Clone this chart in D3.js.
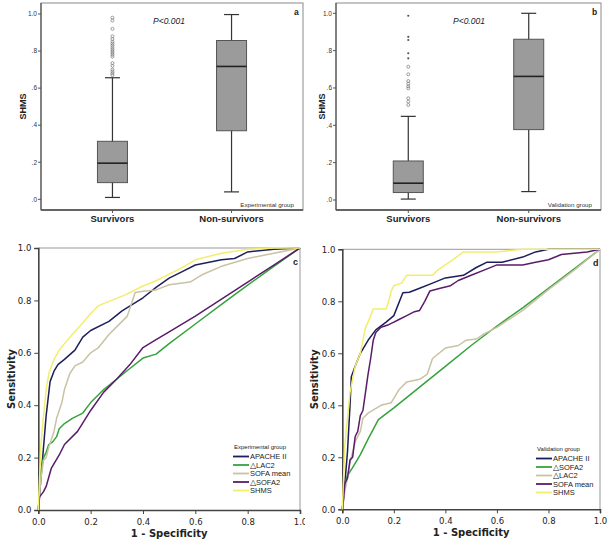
<!DOCTYPE html>
<html><head><meta charset="utf-8">
<script src="https://cdn.jsdelivr.net/npm/d3@7"></script>
<style>body{margin:0;background:#fff}svg{display:block;font-family:"Liberation Sans",Arial,sans-serif}</style>
</head><body>
<svg id="c" width="608" height="546"></svg>
<script>
// ---------- DATA ----------
const boxGroups = ["Survivors", "Non-survivors"];
const yTicksBox = [0, 0.2, 0.4, 0.6, 0.8, 1.0];
// [lower whisker, Q1, median, Q3, upper whisker]
const expSurvivors = [0.01, 0.09, 0.195, 0.313, 0.656];
const expNonSurvivors = [0.04, 0.37, 0.717, 0.857, 0.997];
const expOutliers = [0.98, 0.965, 0.92, 0.88, 0.865, 0.85, 0.84, 0.83, 0.82, 0.81, 0.80, 0.79, 0.78, 0.77, 0.735, 0.72, 0.70, 0.69, 0.68, 0.67];
const valSurvivors = [0.005, 0.04, 0.09, 0.209, 0.448];
const valNonSurvivors = [0.045, 0.377, 0.662, 0.861, 1.0];
const valOutliers = [0.714, 0.673, 0.637, 0.623, 0.609, 0.598, 0.545, 0.527, 0.509];
const valExtremes = [0.987, 0.874, 0.857, 0.786, 0.759];

const rocTicks = [0, 0.2, 0.4, 0.6, 0.8, 1.0];
// Experimental group ROC curves [1-specificity, sensitivity]
const expApache = [[0,0],[0.01,0.12],[0.02,0.24],[0.03,0.36],[0.045,0.49],[0.06,0.53],[0.075,0.555],[0.1,0.575],[0.14,0.61],[0.17,0.66],[0.2,0.685],[0.27,0.72],[0.32,0.76],[0.4,0.81],[0.45,0.85],[0.5,0.885],[0.55,0.91],[0.6,0.935],[0.7,0.955],[0.75,0.96],[0.8,0.985],[0.9,0.995],[1,1]];
const expLac2 = [[0,0],[0.01,0.15],[0.02,0.2],[0.03,0.22],[0.04,0.25],[0.055,0.26],[0.07,0.28],[0.08,0.31],[0.1,0.33],[0.13,0.35],[0.17,0.37],[0.2,0.41],[0.25,0.46],[0.3,0.5],[0.35,0.54],[0.4,0.58],[0.45,0.595],[0.5,0.635],[0.6,0.71],[0.7,0.785],[0.8,0.858],[0.9,0.93],[1,1]];
const expSofaMean = [[0,0],[0.01,0.12],[0.02,0.19],[0.03,0.2],[0.04,0.24],[0.06,0.3],[0.07,0.35],[0.09,0.41],[0.1,0.46],[0.12,0.52],[0.14,0.55],[0.17,0.565],[0.2,0.6],[0.23,0.62],[0.27,0.67],[0.3,0.7],[0.34,0.74],[0.36,0.8],[0.37,0.83],[0.4,0.835],[0.45,0.84],[0.5,0.86],[0.58,0.87],[0.63,0.9],[0.7,0.93],[0.8,0.96],[0.9,0.98],[1,1]];
const expSofa2 = [[0,0],[0.005,0.05],[0.02,0.07],[0.03,0.09],[0.05,0.16],[0.08,0.21],[0.1,0.25],[0.15,0.3],[0.2,0.38],[0.25,0.45],[0.3,0.5],[0.35,0.555],[0.4,0.62],[0.45,0.65],[0.5,0.68],[0.6,0.74],[0.7,0.805],[0.8,0.87],[0.9,0.935],[1,1]];
const expShms = [[0,0],[0.01,0.25],[0.02,0.36],[0.03,0.46],[0.04,0.52],[0.06,0.575],[0.08,0.61],[0.1,0.635],[0.13,0.67],[0.17,0.715],[0.2,0.75],[0.23,0.78],[0.28,0.8],[0.33,0.82],[0.4,0.855],[0.45,0.875],[0.5,0.9],[0.55,0.925],[0.6,0.955],[0.7,0.98],[0.8,0.995],[0.9,1],[1,1]];
// Validation group ROC curves
const valApache = [[0,0],[0.01,0.1],[0.02,0.22],[0.03,0.4],[0.035,0.51],[0.05,0.55],[0.07,0.6],[0.1,0.65],[0.13,0.69],[0.17,0.72],[0.2,0.745],[0.235,0.833],[0.26,0.835],[0.3,0.85],[0.35,0.87],[0.4,0.89],[0.47,0.9],[0.52,0.93],[0.56,0.95],[0.62,0.95],[0.7,0.97],[0.75,0.99],[0.8,1],[1,1]];
const valSofa2 = [[0,0],[0.01,0.1],[0.02,0.13],[0.04,0.16],[0.07,0.21],[0.1,0.27],[0.14,0.345],[0.2,0.39],[0.3,0.47],[0.4,0.55],[0.5,0.63],[0.6,0.705],[0.7,0.775],[0.8,0.85],[0.9,0.925],[1,1]];
const valLac2 = [[0,0],[0.01,0.07],[0.02,0.12],[0.03,0.18],[0.05,0.26],[0.07,0.3],[0.08,0.35],[0.1,0.37],[0.15,0.4],[0.19,0.41],[0.22,0.46],[0.25,0.49],[0.3,0.5],[0.33,0.52],[0.35,0.58],[0.4,0.62],[0.45,0.63],[0.48,0.65],[0.52,0.655],[0.55,0.675],[0.6,0.7],[0.7,0.765],[0.8,0.845],[0.9,0.92],[1,1]];
const valSofaMean = [[0,0],[0.005,0.04],[0.01,0.1],[0.02,0.12],[0.03,0.19],[0.04,0.2],[0.05,0.28],[0.06,0.3],[0.07,0.36],[0.08,0.38],[0.09,0.45],[0.1,0.52],[0.11,0.58],[0.12,0.65],[0.13,0.68],[0.15,0.7],[0.18,0.71],[0.2,0.72],[0.22,0.73],[0.25,0.745],[0.28,0.76],[0.3,0.765],[0.32,0.8],[0.34,0.84],[0.38,0.85],[0.42,0.86],[0.45,0.88],[0.5,0.9],[0.55,0.92],[0.6,0.94],[0.7,0.94],[0.75,0.95],[0.8,0.96],[0.85,0.98],[0.95,0.99],[1,1]];
const valShms = [[0,0],[0.01,0.25],[0.03,0.45],[0.05,0.55],[0.07,0.6],[0.09,0.7],[0.1,0.72],[0.12,0.77],[0.17,0.77],[0.18,0.8],[0.19,0.84],[0.2,0.86],[0.23,0.87],[0.25,0.9],[0.35,0.9],[0.37,0.92],[0.4,0.94],[0.43,0.96],[0.47,0.99],[0.6,0.99],[0.7,1],[1,1]];

const colApache = "#1c1f5c", colGreen = "#35a33c", colBeige = "#c9c2a3", colPurple = "#5a1b6b", colYellow = "#f2ee6c";

const svg = d3.select("#c");
svg.append("rect").attr("width", 608).attr("height", 546).attr("fill", "#fff");

const fmtBox = v => v === 1 ? "1.0" : d3.format(".1f")(v).replace(/^0/, "");

// ---------- BOX PANELS ----------
function boxPanel(o) {
  const g = svg.append("g");
  const x = d3.scalePoint().domain(boxGroups).range([o.left, o.right]).padding(0.6);
  const y = d3.scaleLinear().domain([0, 1]).range([o.y0, o.y1]);
  // frame
  g.append("rect").attr("x", o.left).attr("y", o.top).attr("width", o.right - o.left).attr("height", o.bottom - o.top)
    .attr("fill", "none").attr("stroke", "#8a8a8a").attr("stroke-width", 1);
  g.append("line").attr("x1", o.left).attr("x2", o.right).attr("y1", o.bottom).attr("y2", o.bottom).attr("stroke", "#444").attr("stroke-width", 1.5);
  g.append("line").attr("x1", o.left).attr("x2", o.left).attr("y1", o.top).attr("y2", o.bottom).attr("stroke", "#555").attr("stroke-width", 1.2);
  // y ticks
  yTicksBox.forEach(t => {
    g.append("line").attr("x1", o.left - 3).attr("x2", o.left).attr("y1", y(t)).attr("y2", y(t)).attr("stroke", "#555");
    g.append("text").attr("x", o.left - 4).attr("y", y(t) + 2.3).attr("text-anchor", "end").attr("font-size", 6.5).attr("fill", "#333").text(fmtBox(t));
  });
  g.append("text").attr("transform", `translate(${o.ylabX},${(o.top + o.bottom) / 2}) rotate(-90)`).attr("text-anchor", "middle")
    .attr("font-size", 9).attr("font-weight", "bold").attr("fill", "#222").text("SHMS");
  // x ticks + labels
  boxGroups.forEach(gr => {
    g.append("line").attr("x1", x(gr)).attr("x2", x(gr)).attr("y1", o.bottom).attr("y2", o.bottom + 3).attr("stroke", "#555");
    g.append("text").attr("x", x(gr)).attr("y", o.bottom + 12).attr("text-anchor", "middle").attr("font-size", 9.5).attr("font-weight", "bold").attr("fill", "#222").text(gr);
  });
  const bw = 30;
  [o.s, o.n].forEach((st, i) => {
    const cx = x(boxGroups[i]);
    g.append("line").attr("x1", cx).attr("x2", cx).attr("y1", y(st[0])).attr("y2", y(st[4])).attr("stroke", "#333").attr("stroke-width", 1.2);
    [st[0], st[4]].forEach(v => g.append("line").attr("x1", cx - bw / 4).attr("x2", cx + bw / 4).attr("y1", y(v)).attr("y2", y(v)).attr("stroke", "#333").attr("stroke-width", 1.2));
    g.append("rect").attr("x", cx - bw / 2).attr("y", y(st[3])).attr("width", bw).attr("height", y(st[1]) - y(st[3]))
      .attr("fill", "#9b9b9b").attr("stroke", "#555").attr("stroke-width", 1);
    g.append("line").attr("x1", cx - bw / 2).attr("x2", cx + bw / 2).attr("y1", y(st[2])).attr("y2", y(st[2])).attr("stroke", "#222").attr("stroke-width", 1.6);
  });
  const cx0 = x(boxGroups[0]);
  o.out.forEach(v => g.append("circle").attr("cx", cx0).attr("cy", y(v)).attr("r", 1.5).attr("fill", "none").attr("stroke", "#777").attr("stroke-width", 0.7));
  (o.ext || []).forEach(v => g.append("circle").attr("cx", cx0).attr("cy", y(v)).attr("r", 1.1).attr("fill", "#555"));
  g.append("text").attr("x", o.pX).attr("y", o.top + 21).attr("font-size", 8.5).attr("font-style", "italic").attr("fill", "#222").text("P<0.001");
  g.append("text").attr("x", o.right - 9).attr("y", o.top + 12).attr("font-size", 8.5).attr("font-weight", "bold").attr("fill", "#222").text(o.letter);
  g.append("text").attr("x", o.right - 9).attr("y", o.bottom - 3).attr("text-anchor", "end").attr("font-size", 6.2).attr("fill", "#333").text(o.group);
}
boxPanel({left: 41, right: 303, top: 3, bottom: 210, y0: 199.3, y1: 14, ylabX: 26, s: expSurvivors, n: expNonSurvivors, out: expOutliers, pX: 153, letter: "a", group: "Experimental group"});
boxPanel({left: 336, right: 601, top: 3, bottom: 210, y0: 200, y1: 13.3, ylabX: 325, s: valSurvivors, n: valNonSurvivors, out: valOutliers, ext: valExtremes, pX: 453, letter: "b", group: "Validation group"});

// ---------- ROC PANELS ----------
svg.append("clipPath").attr("id", "clipC").append("rect").attr("x", 0).attr("y", 220).attr("width", 305).attr("height", 326);
function rocPanel(o) {
  const g = svg.append("g").attr("clip-path", o.clip ? `url(#${o.clip})` : null);
  const x = d3.scaleLinear().domain([0, 1]).range([o.x0, o.x1]);
  const y = d3.scaleLinear().domain([0, 1]).range([o.y0, o.y1]);
  g.append("line").attr("x1", o.x0).attr("x2", o.x1).attr("y1", o.y1).attr("y2", o.y1).attr("stroke", "#999").attr("stroke-width", 1);
  g.append("line").attr("x1", o.x1).attr("x2", o.x1).attr("y1", o.y1).attr("y2", o.y0).attr("stroke", "#999").attr("stroke-width", 1);
  const ax = g.append("g").attr("transform", `translate(0,${o.y0})`).call(d3.axisBottom(x).tickValues(rocTicks).tickFormat(d3.format(".1f")).tickSize(4));
  const ay = g.append("g").attr("transform", `translate(${o.x0},0)`).call(d3.axisLeft(y).tickValues(rocTicks).tickFormat(d3.format(".1f")).tickSize(4));
  [ax, ay].forEach(a => {
    a.select(".domain").attr("stroke", "#444").attr("stroke-width", 1.6);
    a.selectAll(".tick line").attr("stroke", "#444");
    a.selectAll("text").attr("font-size", 8.5).attr("fill", "#222").attr("font-family", "DejaVu Sans, sans-serif");
  });
  ax.selectAll("text").attr("dy", "0.9em");
  const line = d3.line().x(d => x(d[0])).y(d => y(d[1]));
  o.series.forEach(s => g.append("path").datum(s.data).attr("d", line).attr("fill", "none").attr("stroke", s.color).attr("stroke-width", 1.5).attr("stroke-linejoin", "round"));
  g.append("text").attr("x", (o.x0 + o.x1) / 2).attr("y", o.y0 + 27).attr("text-anchor", "middle").attr("font-size", 10).attr("font-weight", "bold")
    .attr("font-family", "DejaVu Sans, sans-serif").attr("fill", "#222").text("1 - Specificity");
  g.append("text").attr("transform", `translate(${o.ylabX},${(o.y0 + o.y1) / 2}) rotate(-90)`).attr("text-anchor", "middle").attr("font-size", 10)
    .attr("font-weight", "bold").attr("font-family", "DejaVu Sans, sans-serif").attr("fill", "#222").text("Sensitivity");
  g.append("text").attr("x", o.x1 - 7).attr("y", o.y1 + 17).attr("font-size", 9).attr("font-weight", "bold").attr("fill", "#222").text(o.letter);
  g.append("text").attr("x", o.legX + 1).attr("y", o.legY).attr("font-size", 6).attr("fill", "#222").text(o.group);
  o.series.forEach((s, i) => {
    const yy = o.legY + 10 + i * 8.5;
    g.append("line").attr("x1", o.legX).attr("x2", o.legX + 16).attr("y1", yy - 2.5).attr("y2", yy - 2.5).attr("stroke", s.color).attr("stroke-width", 1.8);
    g.append("text").attr("x", o.legX + 17).attr("y", yy).attr("font-size", 7.5).attr("fill", "#222").text(s.name);
  });
}
rocPanel({x0: 38.3, x1: 300, y0: 510, y1: 248, ylabX: 15, letter: "c", legX: 233, legY: 449, group: "Experimental group", clip: "clipC",
  series: [{name: "APACHE II", data: expApache, color: colApache}, {name: "\u25B3LAC2", data: expLac2, color: colGreen},
           {name: "SOFA mean", data: expSofaMean, color: colBeige}, {name: "\u25B3SOFA2", data: expSofa2, color: colPurple},
           {name: "SHMS", data: expShms, color: colYellow}]});
rocPanel({x0: 342.3, x1: 600, y0: 509.3, y1: 249.3, ylabX: 318, letter: "d", legX: 536, legY: 451, group: "Validation group",
  series: [{name: "APACHE II", data: valApache, color: colApache}, {name: "\u25B3SOFA2", data: valSofa2, color: colGreen},
           {name: "\u25B3LAC2", data: valLac2, color: colBeige}, {name: "SOFA mean", data: valSofaMean, color: colPurple},
           {name: "SHMS", data: valShms, color: colYellow}]});
</script>
</body></html>
